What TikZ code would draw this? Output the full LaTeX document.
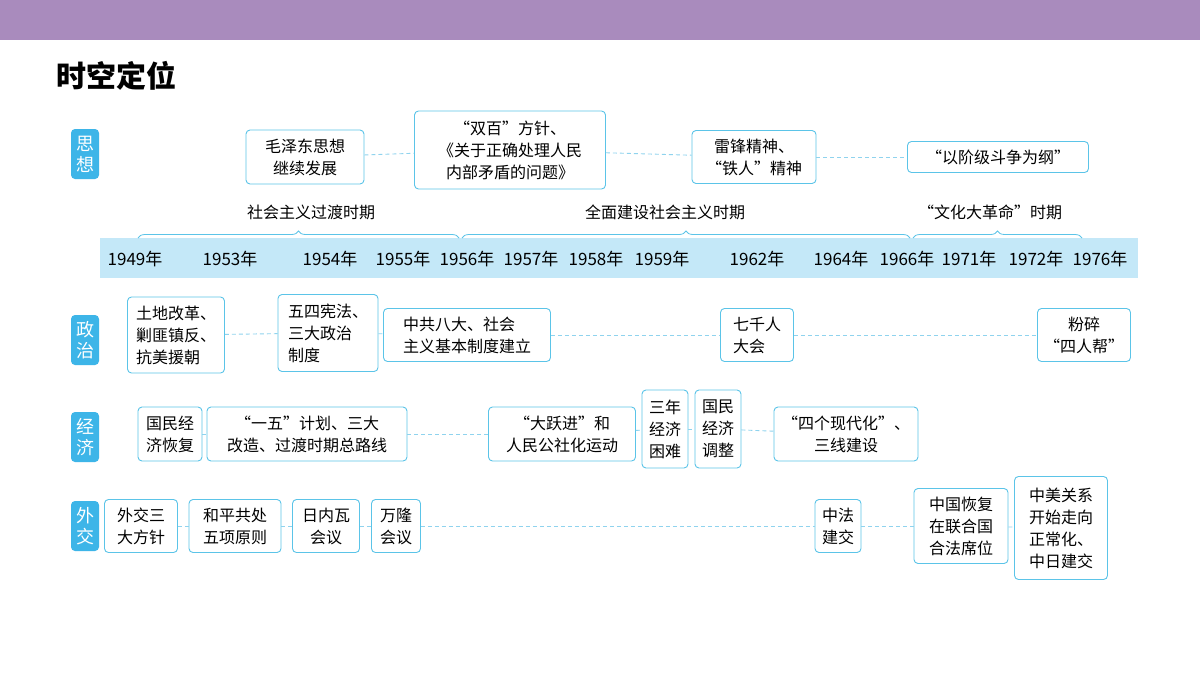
\documentclass[tikz,border=0pt]{standalone}
\usepackage{fontspec}
\setmainfont{Noto Sans CJK SC}
\usetikzlibrary{decorations.pathreplacing}
\definecolor{bar}{HTML}{A98BBD}
\definecolor{cat}{HTML}{3DB5E8}
\definecolor{tl}{HTML}{C4E8F8}
\definecolor{bx}{HTML}{5BC4E8}
\definecolor{dl}{HTML}{8FD3EE}
\begin{document}
\begin{tikzpicture}[x=1pt,y=-1pt,
  box/.style={draw=bx,line width=0.9pt,rounded corners=4pt,inner sep=0pt,align=center,font=\fontsize{16}{22}\selectfont},
  cat/.style={fill=cat,rounded corners=4pt,text=white,inner sep=0pt,minimum width=28pt,minimum height=50pt,align=center,font=\fontsize{18}{21}\selectfont},
  dashln/.style={draw=dl,line width=0.9pt,dash pattern=on 4pt off 3pt},
  yr/.style={font=\fontsize{17}{20}\selectfont},
  per/.style={font=\fontsize{16}{20}\selectfont},
  brace/.style={draw=bx,line width=0.8pt,decorate,decoration={brace,amplitude=7pt}}]
\useasboundingbox (0,0) rectangle (1200,675);
\fill[white] (0,0) rectangle (1200,675);
\fill[bar] (0,0) rectangle (1200,40);
\node[anchor=west,font=\fontsize{30}{32}\selectfont\bfseries] (title) at (53,76) {时空定位};
% categories
\node[cat] (c1) at (85,154) {思\\想};
\node[cat] (c2) at (85,340) {政\\治};
\node[cat] (c3) at (85,437) {经\\济};
\node[cat] (c4) at (85,526) {外\\交};
% timeline
\fill[tl] (100,238) rectangle (1138,278);
\foreach \x/\yy/\n in {135/1949/y1,230/1953/y2,330/1954/y3,403/1955/y4,467/1956/y5,531/1957/y6,596/1958/y7,662/1959/y8,757/1962/y9,841/1964/y10,907/1966/y11,969/1971/y12,1036/1972/y13,1100/1976/y14}
  \node[yr] (\n) at (\x,259) {\yy{}年};
\coordinate (b1a) at (138,238); \coordinate (b1b) at (459,238);
\coordinate (b2a) at (462,238); \coordinate (b2b) at (910,238);
\coordinate (b3a) at (913,238); \coordinate (b3b) at (1082,238);
\draw[brace] (b1a) -- (b1b);
\draw[brace] (b2a) -- (b2b);
\draw[brace] (b3a) -- (b3b);
\node[per] (p1) at (311,212) {社会主义过渡时期};
\node[per] (p2) at (665,212) {全面建设社会主义时期};
\node[per] (p3) at (990,212) {“文化大革命”时期};
% thought
\node[box,minimum width=118pt,minimum height=54pt] (t1) at (305,157) {毛泽东思想\\继续发展};
\node[box,minimum width=191pt,minimum height=78pt] (t2) at (510,150) {“双百”方针、\\《关于正确处理人民\\内部矛盾的问题》};
\node[box,minimum width=124pt,minimum height=53pt] (t3) at (754,157) {雷锋精神、\\“铁人”精神};
\node[box,minimum width=181pt,minimum height=31pt] (t4) at (998,157) {“以阶级斗争为纲”};
\draw[dashln] (t1) -- (t2); \draw[dashln] (t2) -- (t3); \draw[dashln] (t3) -- (t4);
% politics
\node[box,minimum width=97pt,minimum height=76pt,align=left] (q1) at (176,335) {土地改革、\\剿匪镇反、\\抗美援朝};
\node[box,minimum width=100pt,minimum height=77pt,align=left] (q2) at (328,333) {五四宪法、\\三大政治\\制度};
\node[box,minimum width=167pt,minimum height=53pt,align=left] (q3) at (467,335) {中共八大、社会\\主义基本制度建立};
\node[box,minimum width=73pt,minimum height=53pt,align=left] (q4) at (757,335) {七千人\\大会};
\node[box,minimum width=93pt,minimum height=53pt] (q5) at (1084,335) {粉碎\\“四人帮”};
\draw[dashln] (q1) -- (q2); \draw[dashln] (q2) -- (q3); \draw[dashln] (q3) -- (q4); \draw[dashln] (q4) -- (q5);
% economy
\node[box,minimum width=64pt,minimum height=54pt] (e1) at (170,434) {国民经\\济恢复};
\node[box,minimum width=200pt,minimum height=54pt] (e2) at (307,434) {“一五”计划、三大\\改造、过渡时期总路线};
\node[box,minimum width=147pt,minimum height=54pt] (e3) at (562,434) {“大跃进”和\\人民公社化运动};
\node[box,minimum width=46pt,minimum height=78pt] (e4) at (665,429) {三年\\经济\\困难};
\node[box,minimum width=46pt,minimum height=78pt] (e5) at (718,429) {国民\\经济\\调整};
\node[box,minimum width=144pt,minimum height=54pt] (e6) at (846,434) {“四个现代化”、\\三线建设};
\draw[dashln] (e1) -- (e2); \draw[dashln] (e2) -- (e3); \draw[dashln] (e3) -- (e4); \draw[dashln] (e4) -- (e5); \draw[dashln] (e5) -- (e6);
% diplomacy
\node[box,minimum width=73pt,minimum height=53pt] (f1) at (141,526) {外交三\\大方针};
\node[box,minimum width=92pt,minimum height=53pt] (f2) at (235,526) {和平共处\\五项原则};
\node[box,minimum width=67pt,minimum height=53pt] (f3) at (326,526) {日内瓦\\会议};
\node[box,minimum width=49pt,minimum height=53pt] (f4) at (396,526) {万隆\\会议};
\node[box,minimum width=46pt,minimum height=53pt] (f5) at (838,526) {中法\\建交};
\node[box,minimum width=94pt,minimum height=75pt] (f6) at (961,526) {中国恢复\\在联合国\\合法席位};
\node[box,minimum width=93pt,minimum height=103pt] (f7) at (1061,528) {中美关系\\开始走向\\正常化、\\中日建交};
\draw[dashln] (f1) -- (f2); \draw[dashln] (f2) -- (f3); \draw[dashln] (f3) -- (f4); \draw[dashln] (f4) -- (f5); \draw[dashln] (f5) -- (f6); \draw[dashln] (f6) -- (f7);
\end{tikzpicture}
\end{document}
